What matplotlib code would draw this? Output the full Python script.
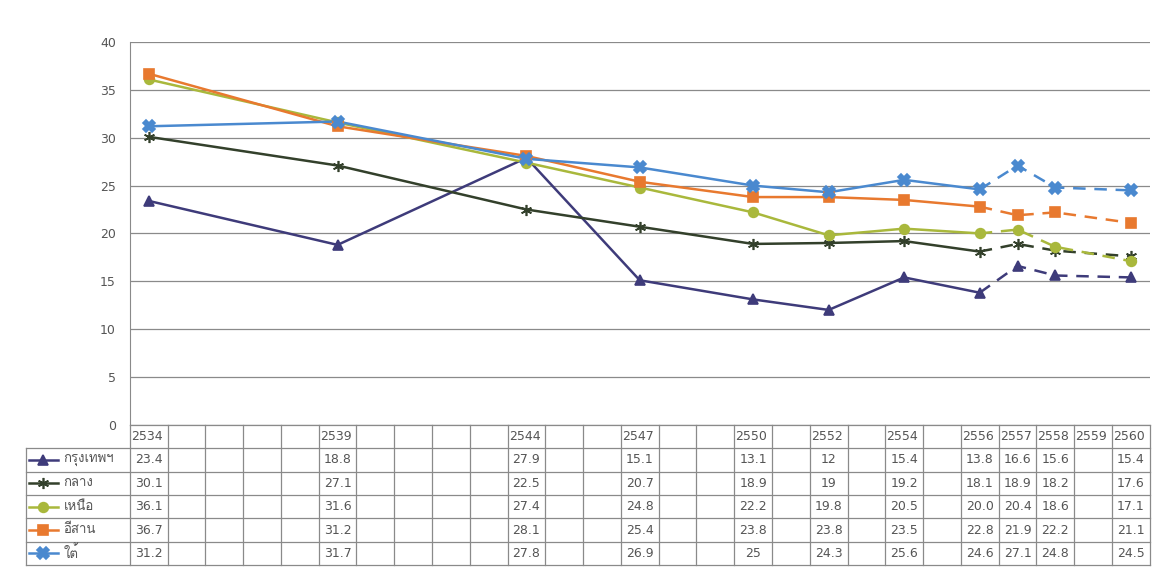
import matplotlib.pyplot as plt
from matplotlib import font_manager, ft2font


def find_thai_font():
    # first installed family that can draw Thai script
    for f in font_manager.fontManager.ttflist:
        try:
            if ft2font.FT2Font(f.fname).get_char_index(ord('ก')):
                return f.name
        except Exception:
            pass
    return 'DejaVu Sans'


thai = find_thai_font()

first_year = 2534
last_year = 2560
header_years = ['2534', '2539', '2544', '2547', '2550', '2552', '2554',
                '2556', '2557', '2558', '2559', '2560']
data_years = [2534, 2539, 2544, 2547, 2550, 2552, 2554, 2556, 2557, 2558, 2560]

names = ['กรุงเทพฯ', 'กลาง', 'เหนือ', 'อีสาน', 'ใต้']
bangkok = ['23.4', '18.8', '27.9', '15.1', '13.1', '12', '15.4', '13.8', '16.6', '15.6', '15.4']
central = ['30.1', '27.1', '22.5', '20.7', '18.9', '19', '19.2', '18.1', '18.9', '18.2', '17.6']
north = ['36.1', '31.6', '27.4', '24.8', '22.2', '19.8', '20.5', '20.0', '20.4', '18.6', '17.1']
northeast = ['36.7', '31.2', '28.1', '25.4', '23.8', '23.8', '23.5', '22.8', '21.9', '22.2', '21.1']
south = ['31.2', '31.7', '27.8', '26.9', '25', '24.3', '25.6', '24.6', '27.1', '24.8', '24.5']
rows = [bangkok, central, north, northeast, south]

colors = ['#3e3b7a', '#33402b', '#a9b83c', '#e8792f', '#4a89cf']
markers = ['^', (6, 2, 0), 'o', 's', 'X']
marker_sizes = [7, 8, 7, 7, 8]
dash_from = data_years.index(2556)

grid_color = '#8a8a8a'
text_color = '#555555'

fig = plt.figure(figsize=(11.59, 5.85), dpi=100)
L, W = 0.112, 0.880

ax = fig.add_axes([L, 0.274, W, 0.654])
xs = [y - first_year for y in data_years]
for vals, c, m, ms in zip(rows, colors, markers, marker_sizes):
    ys = [float(v) for v in vals]
    ax.plot(xs[:dash_from + 1], ys[:dash_from + 1], color=c, lw=1.8, zorder=3)
    ax.plot(xs[dash_from:], ys[dash_from:], color=c, lw=1.8, ls=(0, (5, 3.5)), zorder=3)
    ax.plot(xs, ys, ls='none', marker=m, ms=ms, color=c, mec=c, mew=1.2, zorder=4)

ax.set_xlim(-0.5, last_year - first_year + 0.5)
ax.set_ylim(0, 40)
ax.set_yticks(range(0, 41, 5))
ax.set_xticks([])
ax.grid(axis='y', color=grid_color, lw=0.9)
ax.set_axisbelow(True)
for side in ['top', 'right', 'bottom']:
    ax.spines[side].set_visible(False)
ax.spines['left'].set_color(grid_color)
ax.tick_params(axis='y', length=0, pad=10, labelsize=9, labelcolor=text_color)

# data table under the plot
tax = fig.add_axes([L, 0.034, W, 0.240])
n_cols = last_year - first_year + 1
tax.set_xlim(-0.5, n_cols - 0.5)
tax.set_ylim(6, 0)
tax.axis('off')
x0 = -0.5 - 2.75

for k in range(n_cols + 1):
    tax.plot([k - 0.5, k - 0.5], [0, 6], color=grid_color, lw=0.9, clip_on=False)
tax.plot([x0, x0], [1, 6], color=grid_color, lw=0.9, clip_on=False)
tax.plot([-0.5, n_cols - 0.5], [0, 0], color=grid_color, lw=0.9, clip_on=False)
for r in range(1, 7):
    tax.plot([x0, n_cols - 0.5], [r, r], color=grid_color, lw=0.9, clip_on=False)

for i in range(n_cols):
    label = str(first_year + i)
    if label in header_years:
        tax.text(i - 0.47, 0.52, label, ha='left', va='center', fontsize=9, color=text_color)

for r, (vals, name, c, m, ms) in enumerate(zip(rows, names, colors, markers, marker_sizes)):
    yc = r + 1.5
    for yr, v in zip(data_years, vals):
        tax.text(yr - first_year, yc, v, ha='center', va='center', fontsize=9, color=text_color)
    tax.plot([x0 + 0.08, x0 + 0.85], [yc, yc], color=c, lw=1.8, clip_on=False)
    tax.plot([x0 + 0.46], [yc], marker=m, ms=ms, color=c, mec=c, mew=1.2, clip_on=False)
    tax.text(x0 + 1.0, yc, name, ha='left', va='center', fontsize=9.5,
             color=text_color, family=[thai, 'DejaVu Sans'])

fig.savefig('out.png', dpi=100, facecolor='white')
